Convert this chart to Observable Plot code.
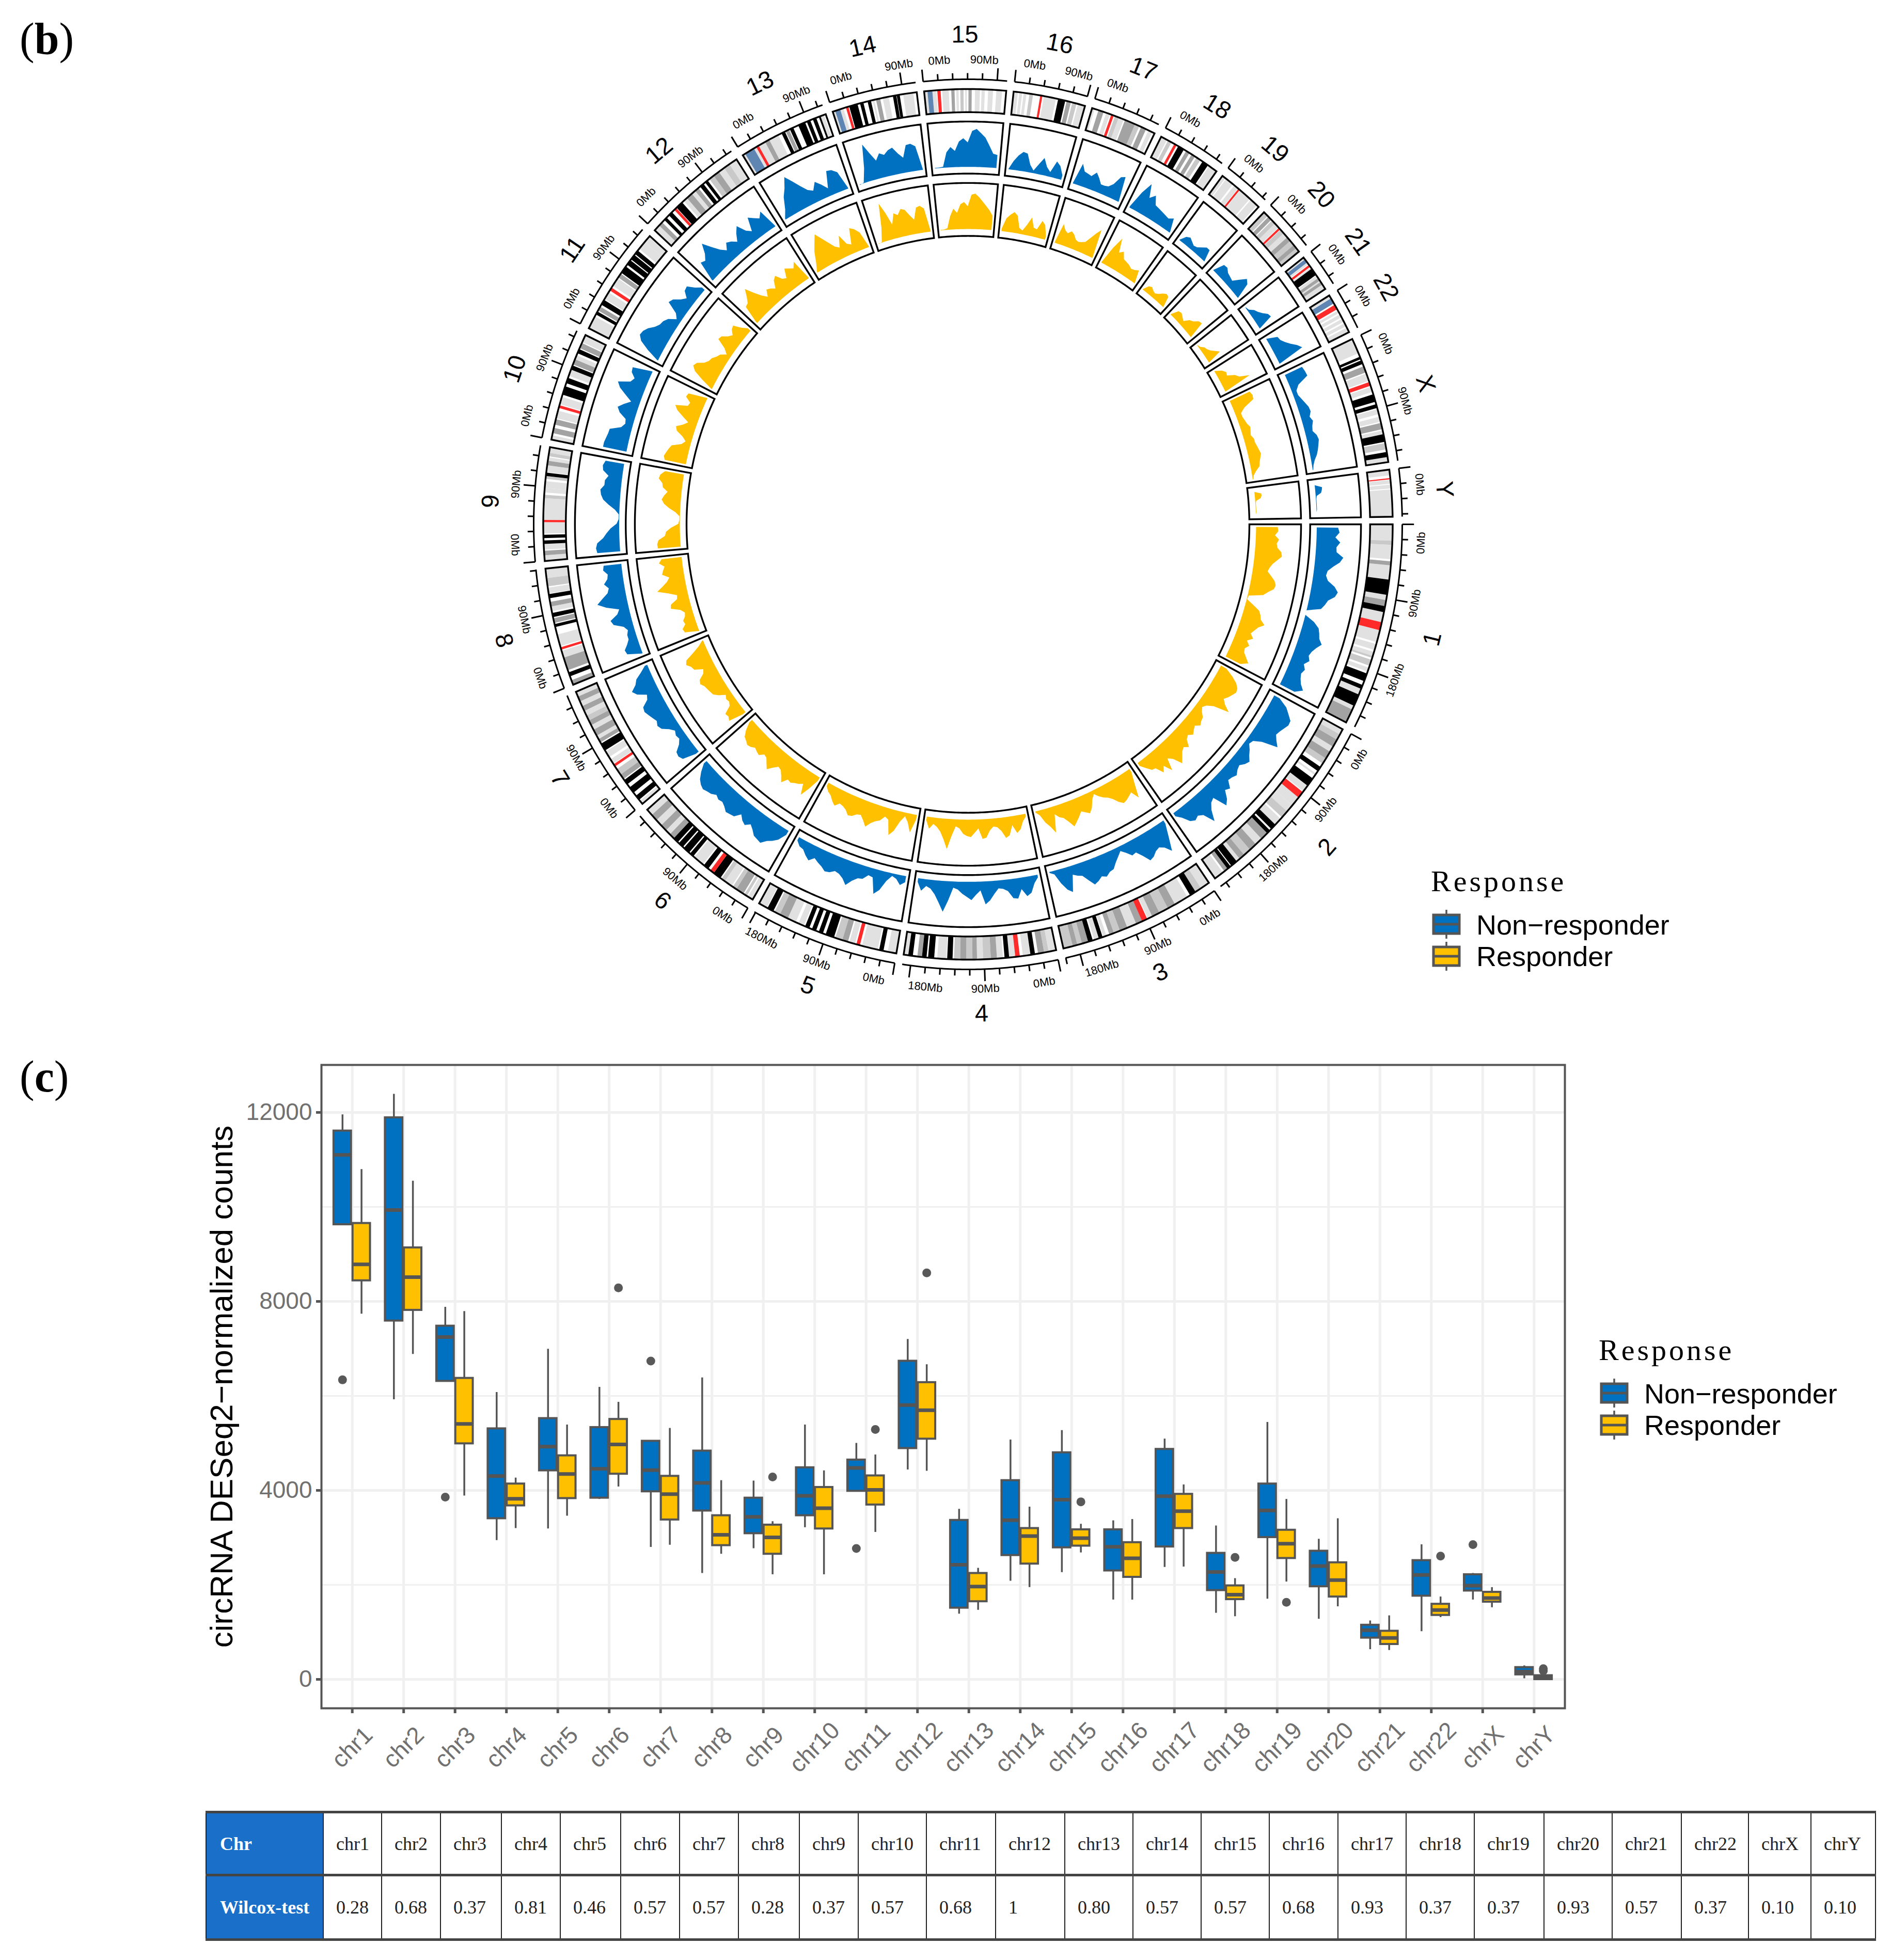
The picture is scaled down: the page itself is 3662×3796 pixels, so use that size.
<!DOCTYPE html>
<html>
<head>
<meta charset="utf-8">
<script src="https://cdn.jsdelivr.net/npm/d3@7"></script>
<script src="https://cdn.jsdelivr.net/npm/@observablehq/plot@0.6"></script>
<style>
html,body{margin:0;padding:0;background:#fff}
#page{position:relative;width:3662px;height:3796px;overflow:hidden;font-family:"Liberation Sans",sans-serif;color:#000}
.panel{font-family:"Liberation Serif",serif;font-size:86px;line-height:1}
.panel b{font-weight:700}
.legendTitle{font-family:"Liberation Serif",serif;font-size:58px;letter-spacing:5px;line-height:1;white-space:nowrap}
.legendLabel{font-size:54px;line-height:1;white-space:nowrap}
table{border-collapse:collapse;table-layout:fixed;font-family:"Liberation Serif",serif;font-size:36px}
td{border-left:2px solid #222;border-right:2px solid #222;border-top:5px solid #444;border-bottom:5px solid #444;padding:0 0 0 24px;vertical-align:middle;white-space:nowrap;overflow:hidden;color:#222}
td.head{background:#1a6fc9;color:#fff;font-weight:700;padding-left:26px;border-left:2px solid #222}
</style>
</head>
<body>
<div id="page"></div>
<script>
// ---------- shared categories ----------
const chromosomes = ["1","2","3","4","5","6","7","8","9","10","11","12","13","14","15","16","17","18","19","20","21","22","X","Y"];
const chromosomeLengthsMb = [248.9,242.2,198.3,190.2,181.5,170.8,159.3,145.1,138.4,133.8,135.1,133.3,114.4,107,102,90.3,83.3,80.4,58.6,64.4,46.7,50.8,156,57.2];
const chrNames = ["chr1","chr2","chr3","chr4","chr5","chr6","chr7","chr8","chr9","chr10","chr11","chr12","chr13","chr14","chr15","chr16","chr17","chr18","chr19","chr20","chr21","chr22","chrX","chrY"];
const wilcoxP = ["0.28","0.68","0.37","0.81","0.46","0.57","0.57","0.28","0.37","0.57","0.68","1","0.80","0.57","0.57","0.68","0.93","0.37","0.37","0.93","0.57","0.37","0.10","0.10"];
const responseLevels = ["Non−responder","Responder"];

// ---------- circular track profiles, percent of track height, start to end of chromosome ----------
const nonResponderProfiles = [
[55,58,50,60,53,54,68,62,50,40,38,43,58,66,62,50,46,40,13,13,33,45,49,52,60,52,46,43,48,40,46,42,45,50,59,45],
[25,45,55,65,66,62,58,55,62,71,40,25,22,30,36,44,40,33,36,42,38,36,50,45,60,68,40,44,55,75,52,46,50,45,30,20],
[20,45,71,58,52,55,62,65,50,38,40,30,22,30,38,48,50,56,52,58,62,50,38,35,30,62,55,40,20,15],
[18,28,45,50,35,52,50,35,30,28,38,50,57,30,38,48,42,36,28,25,50,72,55,40,30,26,36,20],
[25,32,22,18,30,50,60,30,28,38,40,48,60,50,44,42,48,50,44,40,35,44,38,30,28,20],
[22,38,46,52,62,60,58,50,44,52,48,40,52,54,56,50,46,48,44,50,52,55,52,46,35,20],
[20,46,50,48,35,28,30,26,34,46,50,46,50,54,58,56,42,38,55,62,50,44,30,18],
[15,42,44,36,30,30,26,32,50,54,38,32,56,72,60,48,44,52,44,42,50,48],
[58,60,57,45,38,30,18,14,14,22,35,46,51,53,46,46,40,52,54,50],
[60,60,58,56,55,34,28,30,45,52,42,30,45,60,68,45,40,50,52,15],
[15,40,60,68,66,60,50,44,42,36,22,30,54,50,38,30,42,44,30,20],
[16,54,50,60,78,60,45,35,47,42,34,48,58,40,32,58,50,43,53,15],
[15,30,52,66,85,70,55,42,36,50,40,28,60,58,50,15],
[12,14,40,85,65,48,60,55,62,65,52,42,65,66,60,15],
[14,14,15,42,52,44,62,68,60,82,86,78,70,55,40,38],
[14,30,42,50,48,28,18,32,46,30,22,45,38,22],
[15,55,42,40,38,48,40,30,30,32,40,58,62,15],
[16,50,73,48,58,42,40,38,36,34,40,15],
[14,26,30,26,22,24,30,36,36,12],
[14,35,36,30,28,26,38,50,44,14],
[14,16,24,28,34,42,44,14],
[14,34,36,42,50,60,67,14],
[50,52,53,30,22,22,26,30,34,35,30,34,30,28,34,36,33,30,26,20,16,14],
[13,13,27,26,24,15,14,14,14,14,14,13,13]
];
const responderProfiles = [
[55,56,50,58,54,56,64,66,58,50,45,42,50,58,62,60,50,42,15,14,28,42,47,50,60,50,45,40,48,38,46,40,42,50,58,45],
[25,42,55,62,64,60,56,50,58,72,42,30,25,30,38,40,44,36,40,45,38,42,55,48,52,60,68,50,42,65,48,58,42,40,30,20],
[20,42,68,52,56,60,62,55,45,38,34,28,20,28,42,50,45,40,48,55,62,50,40,36,28,62,48,38,22,15],
[18,26,40,46,30,48,52,38,30,28,35,48,50,30,38,46,44,40,30,26,45,70,52,38,30,25,35,20],
[22,48,30,20,32,52,62,34,30,40,44,50,60,50,42,44,50,52,44,40,38,46,40,32,28,20],
[20,42,60,40,45,48,52,50,62,52,44,42,50,60,52,44,42,50,48,45,50,52,48,45,35,20],
[20,48,44,46,30,26,28,24,36,44,46,48,50,55,52,40,36,52,55,62,58,40,25,15],
[14,40,42,34,36,30,28,35,52,50,36,34,50,70,58,48,42,55,52,48,58,52],
[57,58,55,42,40,30,16,14,14,22,35,45,50,46,40,50,52,60,58,50],
[55,58,55,52,48,30,24,32,46,50,38,30,44,58,65,42,40,52,50,15],
[15,38,58,66,62,50,44,42,36,32,22,32,52,50,40,34,42,45,30,20],
[16,50,52,62,75,58,44,34,46,42,36,50,55,42,38,55,50,45,55,15],
[14,30,50,64,78,65,52,40,34,55,35,30,60,55,45,14],
[12,14,40,85,65,40,60,55,65,62,50,40,62,64,58,14],
[14,14,16,38,52,44,60,64,56,78,80,74,66,58,50,40],
[18,38,46,52,46,24,20,32,48,30,28,46,40,20],
[15,52,42,38,44,40,32,30,32,35,46,58,68,15],
[15,48,72,46,52,40,38,36,32,34,38,14],
[14,25,28,24,22,26,32,36,34,12],
[14,28,30,26,22,32,36,44,46,12],
[14,16,22,24,28,35,42,14],
[14,26,32,30,44,50,69,14],
[55,58,56,34,24,24,26,28,32,30,28,32,32,34,36,38,35,32,30,22,16,14],
[13,13,26,26,24,15,14,14,14,14,14,13,13]
];

// ---------- cytobands: [start %, end %, stain] per chromosome ----------
const cytobands = [
[[0,8,25],[8,10,50],[10,17,25],[18,20,75],[20,27,25],[27,34.5,100],[34.5,37,25],[37,40,75],[40,43,100],[43,48,25],[48,52,"acen"],[52,58,25],[59,62,25],[63,65,25],[65,66,50],[67,70,50],[71,73,25],[74,78,100],[80,82,100],[82,85,25],[85,91,100],[91,93,25],[93,100,75]],
[[0,3,25],[3,6,50],[6,10,75],[10,13,25],[13,17,75],[17,20,50],[22,24.5,100],[26,27,25],[29,33.5,100],[33.5,37,25],[37.5,41,"acen"],[41,46,25],[46,50,25],[50,54,50],[55,59,25],[59,62,100],[63,65,100],[65,69,75],[69,73,25],[73,77,75],[77,81,50],[81,84,75],[84,86,25],[86,89.5,100],[90,92,100],[92,94,75],[95,100,25]],
[[0,6,25],[6,10,50],[10,14,100],[16,25,25],[25,30,75],[30,36,50],[36,41,75],[41,44,25],[44.5,48,"acen"],[48,52,75],[52,58,25],[58,63,75],[63,67,50],[67,70,75],[72,74,25],[74.5,77,100],[77,80,25],[81,84,100],[84,88,75],[88,91,50],[91,94,75],[94,100,50]],
[[0,5,25],[5,8,50],[8,12,75],[14,17,100],[17,22,25],[24,27,"acen"],[27,31,25],[31,34,100],[35,39,25],[39,43,75],[43,48,50],[48,52,25],[52,55,75],[55,59,50],[59,63,75],[63,67,50],[68,71.5,100],[72,78,25],[80,84,100],[85,88,100],[88,91,75],[94,97,100],[97,100,25]],
[[0,6,25],[9,12,100],[13,24,25],[25.5,28,"acen"],[29,33,25],[34,38,75],[38,43,50],[44,50,100],[52,55,100],[57,60,100],[62,65,100],[66,70,25],[72,78,25],[78,84,75],[84,88,50],[89,93.5,100],[94,100,25]],
[[0,4,25],[5,7,50],[8,14,75],[14,17,50],[18,24,25],[24,27,50],[28,34,100],[34,37,"acen"],[39,43,100],[44,52,25],[53,56,100],[57,62,100],[63,67,100],[68,72,100],[72,76,75],[76,80,25],[80,85,75],[85,90,25],[90,95,75],[95,100,25]],
[[0,3,25],[4,8,100],[11,16,100],[19,23,100],[24,28,75],[28,33,50],[35.5,37.5,"acen"],[38,42,25],[44,49,25],[50,56,100],[57,60,75],[60,63,25],[63,68,75],[68,72,25],[72,76,75],[76,80,50],[80,84,25],[84,88,75],[88,92,25],[92,96,75],[96,100,25]],
[[0,4,75],[7.5,11,100],[13,24,75],[24,30,25],[31,33,"acen"],[34,44,25],[50.5,53,100],[54,58,75],[59,62.5,100],[64,68,25],[68,72,75],[75,78.5,100],[79,84,25],[85,92,50],[92,100,25]],
[[0,5,25],[5,9,75],[10,15,25],[15,18,100],[20,23,100],[24,34,25],[34,36,"acen"],[36,55,25],[55,58,50],[60,64,25],[64,70,25],[72,74.5,50],[74.5,77.5,100],[78,84,25],[84,88,75],[88,91,25],[92,95,50],[95,100,25]],
[[0,4,25],[6,11,75],[14,19,75],[20,27,25],[29.5,32,"acen"],[33,40,25],[42,50,100],[53,58,100],[60,66,25],[66,70,100],[71,76,75],[76,80,25],[82,86,100],[87,92,75],[93,100,25]],
[[0,12,25],[14,17,100],[18,22,75],[24,29,100],[30,37,25],[39,42,"acen"],[44,52,25],[53,57,75],[58,65,100],[67,72,100],[73,78,100],[79,83,100],[85,93,25],[93,100,25]],
[[0,6,25],[6,10,75],[13,16,100],[19,23,100],[26,28.5,"acen"],[29,36,100],[38,42,25],[42,48,75],[48,52,25],[52,56,75],[58,62,100],[64,67,100],[69,74,50],[74,80,75],[80,86,25],[86,92,50],[92,100,25]],
[[0,3,25],[3,14,"stalk"],[14,17,25],[17,20,"acen"],[20,28,25],[28,33,75],[33,44,25],[48,52,100],[53,57,75],[58,62,100],[68,76,100],[78,82,100],[85,89,100],[92,94,100],[94,98,25]],
[[0,3,25],[3,9,"stalk"],[9,13,25],[16,19,"acen"],[20,30,100],[33,37,100],[42,46,100],[48,50,25],[52,57,75],[60,67,25],[72,76,100],[76.5,80,100],[84,96,25]],
[[0,4,25],[4,10,"stalk"],[10,15,25],[16,20,"acen"],[22,30,25],[33,37,75],[39,42,25],[44,48,50],[50,52,25],[54,58,75],[62,68,25],[70,74,25],[78,84,25],[88,95,25]],
[[0,6,25],[8,12,25],[14,18,25],[22,27,50],[37,40,"acen"],[42,59,25],[62,72,100],[74,80,75],[82,88,50],[90,100,25]],
[[0,4,25],[10,18,75],[22,28,25],[30,34,"acen"],[36,42,50],[42,50,25],[52,68,75],[68,75,50],[78,86,75],[90,96,25]],
[[0,10,25],[12,18,50],[23,27,"acen"],[30,40,100],[44,50,75],[54,60,75],[63,70,50],[74,84,100],[86,100,25]],
[[0,8,25],[10,28,25],[32,42,25],[43,47,"acen"],[48,75,25],[78,95,25]],
[[0,10,50],[12,20,75],[22,30,50],[30,40,25],[41,45,"acen"],[46,55,50],[55,65,25],[65,74,75],[74,84,50],[84,92,75],[92,100,50]],
[[0,6,25],[6,16,"stalk"],[16,22,25],[24,30,"acen"],[32,36,25],[36,56,100],[58,66,25],[66,74,75],[74,78,25],[78,86,75],[86,100,25]],
[[0,7,25],[8,22,"stalk"],[26,38,"acen"],[42,48,25],[52,60,25],[64,72,25],[76,84,25],[88,100,25]],
[[0,12,25],[15,17,100],[18,21,100],[23,28,75],[29,35,25],[36,39,"acen"],[40,44,25],[46,52,100],[54,57,100],[58,62,25],[64,68,25],[69,74,75],[75,78,25],[78,84,100],[85,90,50],[92,96,100],[96,100,25]],
[[0,12,25],[18,20.5,"acen"],[22,30,25],[32,40,25],[42,100,25]]
];

// ---------- box plot summaries ----------
const nrHigh = [11954,12388,7879,6077,6991,6185,5044,6384,4202,5388,4999,7199,3604,5071,5270,3360,5089,3251,5443,2970,1241,2853,2246,290];
const nrQ3   = [11610,11890,7480,5307,5524,5334,5044,4836,3840,4483,4646,6738,3369,4211,4800,3170,4872,2672,4139,2717,1150,2518,2219,254];
const nrMed  = [11100,9934,7245,4302,4926,4455,4428,4157,3441,3885,4474,5805,2427,3369,3804,2807,3876,2273,3577,2400,1041,2210,1983,163];
const nrQ1   = [9627,7589,6312,3405,4419,3840,3975,3568,3088,3468,3985,4890,1512,2626,2789,2300,2807,1884,3006,1965,878,1766,1875,100];
const nrLow  = [9627,5923,6312,2943,3188,3813,2798,2246,2771,3215,3985,4437,1386,2083,2264,1684,2373,1404,1702,1277,634,1014,1684,18];
const rHigh  = [10795,10550,7788,4265,5388,5868,5316,4211,3342,4419,4754,6665,2355,3650,3287,3387,4120,2137,3813,3405,1349,1748,1947,90];
const rQ3    = [9654,9137,6375,4139,4736,5506,4302,3468,3269,4066,4311,6285,2246,3197,3170,2898,3921,1983,3161,2472,1023,1594,1847,82];
const rMed   = [8784,8513,5406,3822,4347,4972,3921,3061,3006,3622,4012,5696,1965,3034,2988,2563,3559,1793,2871,2101,878,1467,1721,45];
const rQ1    = [8440,7815,4990,3677,3831,4347,3378,2835,2653,3188,3695,5089,1648,2445,2825,2164,3197,1693,2563,1748,743,1358,1639,0];
const rLow   = [7734,6883,3885,3197,3459,4075,2844,2653,2219,2219,3115,4410,1467,1947,2681,1684,2382,1331,2065,1540,616,1313,1521,0];
const nrOutlierChr = [1,3,7,11,23];
const nrOutlierVal = [6340,3858,6738,2771,2853];
const rOutlierChr = [6,9,11,12,15,18,19,22,24,24];
const rOutlierVal = [8286,4283,5289,8603,3758,2581,1630,2608,226,181];
const yTicks = [0,4000,8000,12000];
const yMinor = [2000,6000,10000];

// ---------- palette ----------
const BLUE="#0070C0", YELLOW="#FFC000", BOXLINE="#555555", AXISGREY="#707070", GRID="#f0f0f0";
const stainColors = new Map([[100,"#000000"],[75,"#a3a3a3"],[50,"#c9c9c9"],[25,"#e1e1e1"],["acen","#ff2a2a"],["stalk","#5f86b3"]]);

// ---------- circular layout ----------
const CX=1874, CY=1015, RX=841, RY=862, CH=2010;
const R = {tick:1, ideoOut:.978, ideoIn:.926, nrOut:.905, nrIn:.788, rOut:.767, rIn:.648};
const totalMb = d3.sum(chromosomeLengthsMb);
const degPerMb = (360-24)/totalMb;
const sectors = []; {
  let a=0;
  chromosomes.forEach((c,i)=>{const span=chromosomeLengthsMb[i]*degPerMb;sectors.push({c,i,start:a,end:a+span,span});a+=span+1;});
}
const pt=(deg,r)=>{const t=deg*Math.PI/180;return {x:r*Math.cos(t),y:r*Math.sin(t)};};
function arcPts(a0,a1,r){const n=Math.max(2,Math.ceil(Math.abs(a1-a0)/0.4)+1);return d3.range(n).map(k=>pt(a0+(a1-a0)*k/(n-1),r));}
function annular(a0,a1,r0,r1,id){return [...arcPts(a0,a1,r1),...arcPts(a1,a0,r0)].map(p=>({...p,id}));}

const boxes=[],bandRows={},axisArcs=[],ticks=[],tickLabels=[],chrLabels=[],nrArea=[],rArea=[];
const BASE=13, INSET=.5;
function profilePoly(s,vals,inner,outer,id){
  const a0=s.start+INSET,a1=s.end-INSET,n=vals.length;
  const top=vals.map((v,k)=>pt(a0+(a1-a0)*k/(n-1),inner+(outer-inner)*v/100));
  const base=arcPts(a1,a0,inner+(outer-inner)*BASE/100);
  return [...top,...base].map(p=>({...p,id}));
}
const labelHalfDeg={"0Mb":1.4,"90Mb":1.8,"180Mb":2.2};
const rotFor=deg=>{const d=((deg%360)+360)%360;return d<180?d-90:d+90;};
sectors.forEach(s=>{
  [[R.ideoIn,R.ideoOut],[R.nrIn,R.nrOut],[R.rIn,R.rOut]].forEach((rr,k)=>boxes.push(...annular(s.start,s.end,rr[0],rr[1],s.c+"-"+k)));
  cytobands[s.i].forEach((b,k)=>{
    const a0=s.start+s.span*b[0]/100,a1=s.start+s.span*b[1]/100;
    (bandRows[b[2]]=bandRows[b[2]]||[]).push(...annular(a0,a1,R.ideoIn,R.ideoOut,s.c+"-"+k));
  });
  nrArea.push(...profilePoly(s,nonResponderProfiles[s.i],R.nrIn,R.nrOut,s.c));
  rArea.push(...profilePoly(s,responderProfiles[s.i],R.rIn,R.rOut,s.c));
  axisArcs.push(...arcPts(s.start,s.end,R.tick).map(p=>({...p,id:s.c})));
  const len=chromosomeLengthsMb[s.i];
  for(let m=0;m<=len;m+=18){
    const a=s.start+m*degPerMb,major=m%90===0;
    const p0=pt(a,R.tick),p1=pt(a,R.tick+(major?.027:.014));
    ticks.push({x1:p0.x,y1:p0.y,x2:p1.x,y2:p1.y});
    if(major){
      const text=m+"Mb",h=labelHalfDeg[text];
      let c=a;
      if(m===0) c=s.start+.9+h; else if(a+h>s.end) c=a-h;
      const q=pt(c,1.044);
      tickLabels.push({x:q.x,y:q.y,text,rot:rotFor(c)});
    }
  }
  const mid=(s.start+s.end)/2,q=pt(mid,1.10);
  chrLabels.push({x:q.x,y:q.y,text:s.c,rot:rotFor(mid)});
});

const circos = Plot.plot({
  width:3662,height:CH,marginTop:0,marginRight:0,marginBottom:0,marginLeft:0,
  style:{background:"transparent",fontFamily:"'Liberation Sans',sans-serif",overflow:"visible"},
  x:{domain:[-CX/RX,(3662-CX)/RX],range:[0,3662],axis:null},
  y:{domain:[-CY/RY,(CH-CY)/RY],range:[0,CH],axis:null},
  marks:[
    ...[25,50,75,100,"stalk","acen"].map(st=>Plot.line(bandRows[st],{x:"x",y:"y",z:"id",fill:stainColors.get(st),stroke:"none",curve:"linear-closed"})),
    Plot.line(nrArea,{x:"x",y:"y",z:"id",fill:BLUE,stroke:"none",curve:"linear-closed"}),
    Plot.line(rArea,{x:"x",y:"y",z:"id",fill:YELLOW,stroke:"none",curve:"linear-closed"}),
    Plot.line(boxes,{x:"x",y:"y",z:"id",stroke:"#000",strokeWidth:3.4,curve:"linear-closed",strokeLinejoin:"miter",strokeMiterlimit:8}),
    Plot.line(axisArcs,{x:"x",y:"y",z:"id",stroke:"#000",strokeWidth:3,strokeLinecap:"butt"}),
    Plot.link(ticks,{x1:"x1",y1:"y1",x2:"x2",y2:"y2",stroke:"#000",strokeWidth:3}),
    Plot.text(tickLabels,{x:"x",y:"y",text:"text",rotate:"rot",fontSize:22,fill:"#000",textAnchor:"middle",lineAnchor:"middle"}),
    Plot.text(chrLabels,{x:"x",y:"y",text:"text",rotate:"rot",fontSize:47,fill:"#000",textAnchor:"middle",lineAnchor:"middle"})
  ]
});

// ---------- box plot ----------
const BP_TOP=2000,BP_H=1480;
const idx=chrNames.map((_,i)=>i);
function series(low,q1,med,q3,high,off){return idx.map(i=>({x:i+1+off,x1:i+1+off-.17,x2:i+1+off+.17,low:low[i],q1:q1[i],med:med[i],q3:q3[i],high:high[i]}));}
const nrBoxes=series(nrLow,nrQ1,nrMed,nrQ3,nrHigh,-.19), rBoxes=series(rLow,rQ1,rMed,rQ3,rHigh,.18);
const nrOut=nrOutlierChr.map((c,k)=>({x:c-.19,v:nrOutlierVal[k]}));
const rOut=rOutlierChr.map((c,k)=>({x:c+.18,v:rOutlierVal[k]}));
const boxMarks=(data,fill)=>[
  Plot.ruleX(data,{x:"x",y1:"low",y2:"high",stroke:BOXLINE,strokeWidth:3.5}),
  Plot.rect(data,{x1:"x1",x2:"x2",y1:"q1",y2:"q3",fill,stroke:BOXLINE,strokeWidth:4}),
  Plot.ruleY(data,{y:"med",x1:"x1",x2:"x2",stroke:BOXLINE,strokeWidth:7})
];
const boxPlot = Plot.plot({
  width:3662,height:BP_H,marginTop:62,marginBottom:172,marginLeft:622,marginRight:632,
  style:{background:"transparent",fontFamily:"'Liberation Sans',sans-serif",fontSize:"46px",overflow:"visible"},
  x:{type:"linear",domain:[.4,24.6],axis:null},
  y:{domain:[-612,13005],axis:null},
  marks:[
    Plot.ruleY(yMinor,{stroke:GRID,strokeWidth:3}),
    Plot.ruleY(yTicks,{stroke:GRID,strokeWidth:5}),
    Plot.ruleX(idx.map(i=>i+1),{stroke:GRID,strokeWidth:5}),
    ...boxMarks(nrBoxes,BLUE),
    ...boxMarks(rBoxes,YELLOW),
    Plot.dot(nrOut,{x:"x",y:"v",r:8.5,fill:"#595959",stroke:"none"}),
    Plot.dot(rOut,{x:"x",y:"v",r:8.5,fill:"#595959",stroke:"none"}),
    Plot.frame({stroke:BOXLINE,strokeWidth:4}),
    Plot.axisY(yTicks,{anchor:"left",tickSize:10,tickPadding:8,tickFormat:"d",stroke:BOXLINE,strokeWidth:5,fill:AXISGREY,label:null,fontSize:46}),
    Plot.axisX(idx.map(i=>i+1),{anchor:"bottom",tickSize:10,stroke:BOXLINE,strokeWidth:5,fill:"none",label:null,tickFormat:()=>""}),
    Plot.text(idx,{x:i=>i+1,frameAnchor:"bottom",text:i=>chrNames[i],rotate:-45,dy:76,fontSize:46,fill:AXISGREY,textAnchor:"middle",lineAnchor:"middle"}),
    Plot.text(["circRNA DESeq2−normalized counts"],{frameAnchor:"left",rotate:-90,dx:-192,fontSize:62,fill:"#000",textAnchor:"middle",lineAnchor:"middle"})
  ]
});

// ---------- page assembly ----------
const page=document.getElementById("page");
function place(el,left,top){el.style.position="absolute";el.style.left=left+"px";el.style.top=top+"px";page.appendChild(el);return el;}
place(circos,0,0);
place(boxPlot,0,BP_TOP);

function html(h,left,top,cls){const d=document.createElement("div");d.className=cls||"";d.innerHTML=h;return place(d,left,top);}
html("(<b>b</b>)",38,32,"panel");
html("(<b>c</b>)",38,2042,"panel");

function keySvg(fill){
  return `<svg width="56" height="60" style="display:block;overflow:visible">
  <line x1="28" x2="28" y1="0" y2="56" stroke="${BOXLINE}" stroke-width="3.5"/>
  <rect x="3" y="10" width="50" height="36" fill="${fill}" stroke="${BOXLINE}" stroke-width="5"/>
  <line x1="3" x2="53" y1="28" y2="28" stroke="${BOXLINE}" stroke-width="5"/></svg>`;
}
function legend(dx,dy){
  html("Response",2771+dx,1678+dy,"legendTitle");
  html(keySvg(BLUE),2773+dx,1762+dy);
  html(keySvg(YELLOW),2773+dx,1824+dy);
  html(responseLevels[0],2859+dx,1764+dy,"legendLabel");
  html(responseLevels[1],2859+dx,1825+dy,"legendLabel");
}
legend(0,0);
legend(325,908);

// ---------- table ----------
const colEdges=[400,627,740,854,972,1086,1203,1317,1431,1549,1663,1795,1929,2063,2195,2327,2459,2592,2724,2856,2991,3123,3257,3387,3508,3633];
const table=document.createElement("table");
table.style.width=(colEdges[colEdges.length-1]-colEdges[0])+"px";
const colgroup=document.createElement("colgroup");
d3.pairs(colEdges).forEach(([a,b])=>{const c=document.createElement("col");c.style.width=(b-a)+"px";colgroup.appendChild(c);});
table.appendChild(colgroup);
[["Chr",chrNames,122],["Wilcox-test",wilcoxP,125]].forEach(([head,vals,h])=>{
  const tr=document.createElement("tr");tr.style.height=h+"px";
  const th=document.createElement("td");th.className="head";th.textContent=head;tr.appendChild(th);
  vals.forEach(v=>{const td=document.createElement("td");td.textContent=v;tr.appendChild(td);});
  table.appendChild(tr);
});
place(table,398,3507);
</script>
</body>
</html>
